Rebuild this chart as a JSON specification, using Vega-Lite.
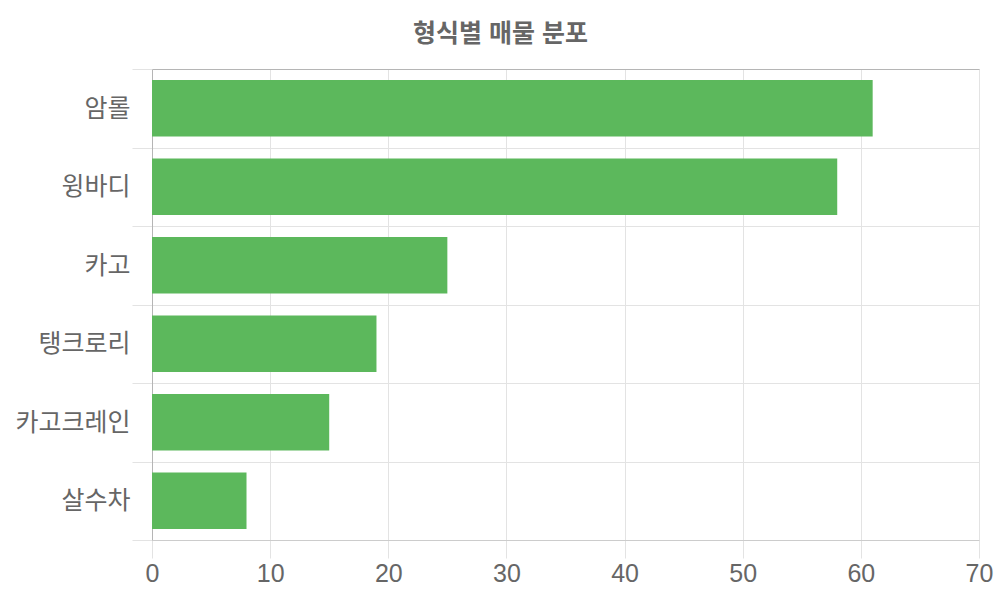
{
  "$schema": "https://vega.github.io/schema/vega-lite/v6.json",
  "width": 827,
  "height": 471,
  "autosize": {"type": "none"},
  "padding": {"left": 152, "top": 69, "right": 21, "bottom": 60},
  "title": {
    "text": "형식별 매물 분포",
    "font": "Liberation Sans, Noto Sans CJK KR",
    "fontSize": 25,
    "fontWeight": "bold",
    "color": "#666666",
    "anchor": "middle",
    "dx": -65,
    "offset": 10
  },
  "config": {
    "view": {"stroke": null},
    "font": "Liberation Sans, Noto Sans CJK KR"
  },
  "data": {
    "values": [
      {"type": "암롤", "count": 61},
      {"type": "윙바디", "count": 58},
      {"type": "카고", "count": 25},
      {"type": "탱크로리", "count": 19},
      {"type": "카고크레인", "count": 15},
      {"type": "살수차", "count": 8}
    ]
  },
  "resolve": {"axis": {"x": "independent"}},
  "layer": [
    {
      "mark": {"type": "bar", "color": "#5cb85c", "height": {"band": 0.72}},
      "encoding": {
        "y": {
          "field": "type",
          "type": "nominal",
          "sort": null,
          "title": null,
          "scale": {"paddingInner": 0, "paddingOuter": 0},
          "axis": {
            "tickBand": "extent",
            "grid": true,
            "gridColor": "#e3e3e3",
            "tickColor": "#e3e3e3",
            "tickSize": 20,
            "domainColor": "#b5b5b5",
            "labelFontSize": 25,
            "labelColor": "#666666",
            "labelPadding": 2
          }
        },
        "x": {
          "field": "count",
          "type": "quantitative",
          "title": null,
          "scale": {"domain": [0, 70], "nice": false},
          "axis": {
            "values": [0, 10, 20, 30, 40, 50, 60, 70],
            "grid": true,
            "gridColor": "#e3e3e3",
            "tickColor": "#e3e3e3",
            "tickSize": 18,
            "domainColor": "#cccccc",
            "labelFontSize": 25,
            "labelColor": "#666666",
            "labelPadding": 3,
            "labelFlush": false,
            "labelOverlap": false
          }
        }
      }
    },
    {
      "mark": {"type": "bar", "opacity": 0, "height": {"band": 0.72}},
      "encoding": {
        "y": {"field": "type", "type": "nominal", "sort": null},
        "x": {
          "field": "count",
          "type": "quantitative",
          "axis": {
            "orient": "top",
            "title": null,
            "labels": false,
            "ticks": false,
            "grid": false,
            "domainColor": "#b5b5b5"
          }
        }
      }
    }
  ]
}
